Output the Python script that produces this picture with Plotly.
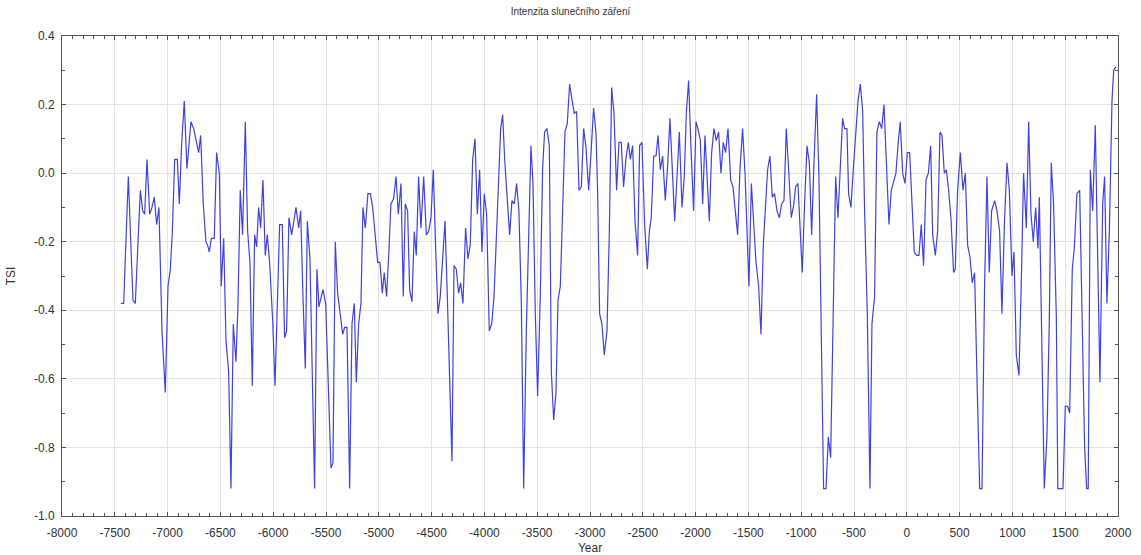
import plotly.graph_objects as go

# Reconstructed total solar irradiance anomaly (TSI) by calendar year
years = [
    -7442, -7416, -7372, -7328, -7306, -7258, -7236, -7217, -7195, -7170,
    -7148, -7126, -7104, -7082, -7053, -7022, -6996, -6974, -6955, -6933,
    -6908, -6889, -6867, -6842, -6817, -6779, -6753, -6728, -6706, -6687,
    -6662, -6637, -6621, -6605, -6586, -6558, -6536,
    -6510, -6492, -6469, -6447, -6422, -6400, -6378, -6353, -6334, -6312,
    -6290, -6264, -6242, -6220, -6198, -6176, -6157, -6138, -6119, -6097,
    -6075, -6056, -6034, -6005, -5983, -5961, -5939, -5914, -5892, -5873,
    -5851, -5825, -5803, -5784, -5759, -5740, -5718, -5696, -5677, -5652,
    -5608, -5586, -5567,
    -5529, -5503, -5453, -5434, -5412, -5390, -5365, -5342, -5324, -5301,
    -5276, -5254, -5232, -5213, -5191, -5169, -5150, -5128, -5103, -5080,
    -5058, -5033, -5011, -4989, -4967, -4948, -4926, -4904, -4885, -4860,
    -4837, -4815, -4790, -4768, -4749, -4727, -4708, -4686, -4664, -4645,
    -4623, -4601, -4575, -4550,
    -4528, -4506, -4484, -4462, -4440, -4418, -4395, -4373, -4351, -4332,
    -4307, -4288, -4266, -4244, -4225, -4203, -4178, -4156, -4134, -4111,
    -4089, -4067, -4045, -4023, -4001, -3979, -3954, -3931, -3909, -3887,
    -3865, -3846, -3827, -3808, -3783, -3761, -3739, -3717, -3695, -3673,
    -3650, -3628, -3603, -3581, -3559,
    -3540, -3518, -3496, -3471, -3449, -3430, -3408, -3385, -3366, -3344,
    -3322, -3303, -3281, -3262, -3237, -3215, -3193, -3171, -3149, -3127,
    -3104, -3082, -3060, -3038, -3013, -2991, -2966, -2943, -2928, -2909,
    -2887, -2865, -2839, -2817, -2795, -2773, -2748, -2726, -2704, -2682,
    -2659, -2637, -2618, -2596, -2574,
    -2549, -2530, -2508, -2483, -2457, -2438, -2420, -2397, -2375, -2356,
    -2334, -2312, -2287, -2265, -2243, -2221, -2198, -2176, -2154, -2129,
    -2107, -2088, -2066, -2044, -2019, -1996, -1974, -1955, -1933, -1911,
    -1889, -1870, -1848, -1826, -1804, -1782, -1760, -1738, -1716, -1693,
    -1668, -1646, -1624, -1602, -1580,
    -1555, -1532, -1514, -1495, -1472, -1450, -1428, -1403, -1381, -1359,
    -1337, -1318, -1296, -1274, -1252, -1229, -1207, -1185, -1163, -1141,
    -1119, -1094, -1072, -1053, -1031, -1012, -990, -968, -945, -923,
    -901, -879, -854, -832, -810, -788, -765, -743, -721, -699,
    -674, -652, -630, -608, -589, -567,
    -551, -529, -507, -485, -462, -440, -418, -399, -374, -349,
    -330, -305, -283, -260, -238, -216, -191, -169, -147, -125,
    -103, -81, -62, -39, -17, 5, 27, 49, 71, 93,
    115, 137, 159, 182, 204, 226, 245, 270, 292, 314,
    333, 355, 374, 396, 418, 443,
    459, 481, 507, 532, 554, 576, 598, 620, 642, 664,
    690, 712, 737, 759, 781, 803, 832, 854, 879, 901,
    926, 949, 971, 996, 1015, 1037, 1062, 1084, 1106, 1132,
    1154, 1176, 1198, 1220, 1242, 1255, 1280, 1302, 1327, 1349,
    1368, 1390, 1416, 1430,
    1479, 1501, 1523, 1542, 1567, 1586, 1611, 1637, 1684, 1703,
    1718, 1738, 1760, 1785, 1829, 1855, 1873, 1895, 1918, 1943,
    1959, 1981,
]

tsi = [
    -0.38, -0.38, -0.01, -0.37, -0.38, -0.05, -0.11, -0.12, 0.04, -0.12,
    -0.10, -0.07, -0.15, -0.10, -0.46, -0.64, -0.33, -0.28, -0.17, 0.04,
    0.04, -0.09, 0.085, 0.21, 0.013, 0.15, 0.13, 0.095, 0.06, 0.11,
    -0.09, -0.20, -0.21, -0.23, -0.19, -0.19, 0.06,
    0.00, -0.33, -0.19, -0.49, -0.58, -0.92, -0.44, -0.55, -0.39, -0.05,
    -0.18, 0.15, -0.17, -0.26, -0.62, -0.18, -0.215, -0.10, -0.16, -0.02,
    -0.24, -0.18, -0.26, -0.43, -0.62, -0.41, -0.15, -0.15, -0.48, -0.46,
    -0.13, -0.18, -0.13, -0.10, -0.16, -0.11, -0.36, -0.57, -0.14, -0.25,
    -0.92, -0.28, -0.39,
    -0.34, -0.38, -0.86, -0.845, -0.20, -0.35, -0.41, -0.47, -0.45, -0.45,
    -0.92, -0.44, -0.38, -0.61, -0.44, -0.38, -0.10, -0.16, -0.06, -0.06,
    -0.10, -0.18, -0.26, -0.26, -0.35, -0.29, -0.36, -0.225, -0.09, -0.075,
    -0.01, -0.12, -0.03, -0.36, -0.09, -0.11, -0.34, -0.375, -0.17, -0.24,
    -0.01, -0.16, -0.01, -0.18,
    -0.17, -0.13, 0.01, -0.215, -0.41, -0.36, -0.245, -0.14, -0.36, -0.59,
    -0.84, -0.27, -0.28, -0.35, -0.32, -0.38, -0.16, -0.25, -0.21, 0.04,
    0.10, -0.12, 0.01, -0.23, -0.06, -0.12, -0.46, -0.44, -0.36, -0.19,
    0.00, 0.13, 0.17, 0.04, -0.08, -0.18, -0.08, -0.09, -0.03, -0.11,
    -0.38, -0.92, -0.46, -0.15, 0.08,
    -0.03, -0.41, -0.65, -0.36, 0.01, 0.12, 0.13, 0.08, -0.58, -0.72,
    -0.64, -0.37, -0.33, -0.13, 0.12, 0.145, 0.26, 0.215, 0.175, 0.18,
    -0.05, -0.04, 0.13, 0.075, -0.05, 0.055, 0.19, 0.115, -0.05, -0.41,
    -0.44, -0.53, -0.46, -0.17, 0.25, 0.175, -0.05, 0.09, 0.09, -0.04,
    0.045, 0.09, 0.04, 0.08, -0.14,
    -0.24, 0.08, 0.09, -0.15, -0.28, -0.17, -0.13, 0.05, 0.05, 0.11,
    0.01, 0.05, -0.08, 0.02, 0.16, 0.01, -0.14, -0.01, 0.12, -0.10,
    -0.01, 0.175, 0.27, 0.075, -0.11, 0.15, 0.125, 0.095, -0.09, 0.11,
    -0.01, -0.14, 0.06, 0.13, 0.095, 0.12, 0.00, 0.09, 0.06, 0.13,
    -0.02, -0.04, -0.11, -0.18, 0.01,
    0.13, 0.00, -0.19, -0.33, -0.03, -0.13, -0.26, -0.33, -0.47, -0.21,
    -0.07, 0.01, 0.05, -0.07, -0.06, -0.11, -0.13, -0.09, -0.08, 0.13,
    0.01, -0.13, -0.095, -0.04, -0.03, -0.17, -0.29, -0.09, 0.08, 0.03,
    -0.18, 0.03, 0.23, -0.01, -0.46, -0.92, -0.92, -0.77, -0.83, -0.46,
    -0.01, -0.13, 0.03, 0.16, 0.13, 0.13,
    -0.06, -0.10, 0.01, 0.11, 0.21, 0.26, 0.18, -0.12, -0.41, -0.92,
    -0.44, -0.36, 0.12, 0.15, 0.13, 0.20, 0.01, -0.15, -0.05, -0.025,
    0.00, 0.09, 0.15, 0.00, -0.03, 0.06, 0.06, -0.085, -0.23, -0.24,
    -0.24, -0.15, -0.27, -0.02, 0.00, 0.08, -0.18, -0.24, -0.17, 0.12,
    0.11, 0.00, 0.01, -0.05, -0.13, -0.29,
    -0.28, -0.05, 0.06, -0.05, 0.00, -0.21, -0.245, -0.32, -0.29, -0.59,
    -0.92, -0.92, -0.32, -0.01, -0.29, -0.11, -0.08, -0.11, -0.17, -0.41,
    -0.13, 0.03, -0.05, -0.30, -0.23, -0.53, -0.59, -0.32, 0.00, -0.16,
    0.15, -0.12, -0.20, -0.10, -0.22, -0.07, -0.60, -0.92, -0.77, -0.44,
    0.03, -0.09, -0.42, -0.92,
    -0.92, -0.68, -0.68, -0.70, -0.28, -0.22, -0.06, -0.05, -0.80, -0.92,
    -0.92, 0.01, -0.11, 0.14, -0.61, -0.09, -0.01, -0.38, -0.17, 0.21,
    0.30, 0.31,
]

x_ticks = list(range(-8000, 2001, 500))
y_ticks = [-1.0, -0.8, -0.6, -0.4, -0.2, 0.0, 0.2, 0.4]

font_family = "Liberation Sans, Arial, sans-serif"
axis_color = "#555555"
text_color = "#333333"

fig = go.Figure(
    go.Scatter(
        x=years,
        y=tsi,
        mode="lines",
        line=dict(color="rgb(65,65,222)", width=1.2),
        hoverinfo="x+y",
    )
)

common_axis = dict(
    showline=True,
    linecolor=axis_color,
    linewidth=1,
    mirror="ticks",
    ticks="inside",
    ticklen=4,
    tickwidth=1,
    tickcolor=axis_color,
    showgrid=True,
    gridcolor="#e3e3e3",
    gridwidth=1,
    zeroline=False,
    automargin=False,
    tickfont=dict(family=font_family, size=12, color=text_color),
)

fig.update_xaxes(
    range=[-8000, 2000],
    tickvals=x_ticks,
    ticktext=[str(v) for v in x_ticks],
    ticklabelstandoff=6,
    minor=dict(dtick=100, ticks="inside", ticklen=3, tickcolor=axis_color, showgrid=False),
    title=dict(text="Year", font=dict(family=font_family, size=12, color=text_color)),
    **common_axis,
)
fig.update_yaxes(
    range=[-1.0, 0.4],
    tickvals=y_ticks,
    ticktext=[f"{v:.1f}" for v in y_ticks],
    ticklabelstandoff=4,
    minor=dict(dtick=0.1, tick0=0, ticks="inside", ticklen=3, tickcolor=axis_color, showgrid=False),
    title=dict(text="TSI", font=dict(family=font_family, size=12, color=text_color)),
    **common_axis,
)

fig.update_layout(
    width=1141,
    height=555,
    margin=dict(l=62, r=23, t=36, b=39),
    paper_bgcolor="white",
    plot_bgcolor="white",
    showlegend=False,
    title=dict(
        text="Intenzita slunečního záření",
        x=0.5,
        xanchor="center",
        y=0.985,
        yanchor="top",
        font=dict(family=font_family, size=10, color=text_color),
    ),
)

fig.write_html("out.html")
